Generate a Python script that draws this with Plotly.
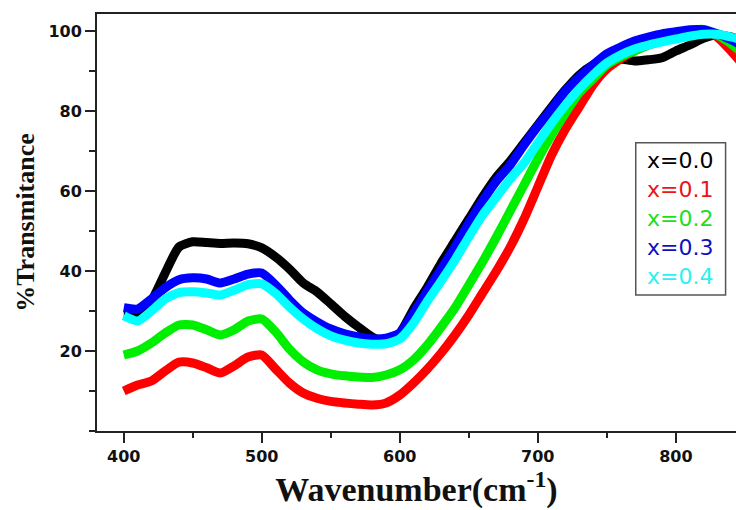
import plotly.graph_objects as go

wavenumber = list(range(400, 851, 10))

t_x00 = [28.8, 29.0, 32.5, 39.5, 46.0, 47.3, 47.1, 46.9, 47.0, 46.8,
         45.8, 43.5, 40.5, 37.0, 34.8, 31.8, 28.7, 26.0, 23.5, 22.3,
         24.5, 30.5, 36.0, 42.0, 47.5, 53.0, 58.5, 63.5, 67.5, 72.0,
         76.5, 81.0, 85.3, 89.0, 91.5, 93.0, 93.0, 92.5, 92.8, 93.3,
         95.0, 96.5, 98.2, 99.0, 98.5, 97.5]
t_x01 = [10.0, 11.5, 12.5, 15.0, 17.2, 17.0, 15.8, 14.5, 16.3, 18.5,
         19.0, 15.5, 12.0, 9.5, 8.2, 7.4, 7.0, 6.7, 6.5, 7.0,
         9.0, 12.0, 15.5, 19.5, 24.0, 29.0, 34.5, 40.0, 46.0, 53.0,
         61.0, 69.0, 75.5, 81.0, 86.5, 90.5, 93.0, 95.0, 96.5, 97.5,
         98.5, 99.8, 100.2, 98.5, 95.0, 91.0]
t_x02 = [19.0, 20.0, 22.0, 24.5, 26.5, 26.5, 25.3, 24.0, 25.3, 27.5,
         28.0, 24.8, 20.5, 17.3, 15.3, 14.3, 13.8, 13.5, 13.4, 14.0,
         15.3, 17.8, 21.5, 26.0, 30.8, 36.5, 42.3, 48.5, 55.0, 61.5,
         68.0, 74.0, 79.5, 84.5, 88.0, 91.5, 93.5, 95.0, 96.5, 97.5,
         98.7, 100.0, 100.4, 99.0, 96.8, 94.0]
t_x03 = [30.8, 30.5, 33.0, 35.8, 37.8, 38.3, 38.0, 37.0, 38.0, 39.2,
         39.5, 36.5, 32.8, 29.5, 27.3, 25.5, 24.3, 23.5, 23.0, 23.2,
         24.5, 29.5, 35.0, 40.5, 46.0, 52.0, 57.5, 62.5, 66.5, 71.5,
         76.2, 80.5, 85.0, 88.5, 91.5, 94.3, 96.0, 97.5, 98.5, 99.3,
         99.8, 100.3, 100.3, 99.3, 97.8, 96.0]
t_x04 = [28.8, 27.5, 30.0, 33.0, 34.6, 34.8, 34.5, 34.0, 35.2, 36.6,
         36.8, 34.4, 31.0, 28.0, 25.6, 23.8, 22.7, 22.0, 21.7, 21.8,
         23.0, 27.0, 32.5, 37.5, 42.8, 48.5, 54.0, 58.5, 63.0, 67.0,
         72.0, 77.0, 81.5, 85.5, 89.0, 92.0, 94.0, 95.5, 96.5, 97.3,
         98.0, 98.7, 99.2, 99.2, 98.5, 97.5]

series_names = ["x=0.0", "x=0.1", "x=0.2", "x=0.3", "x=0.4"]
series_values = [t_x00, t_x01, t_x02, t_x03, t_x04]
series_colors = ["#000000", "#ff0000", "#00ee00", "#0000ff", "#00ffff"]
legend_text_colors = ["#000000", "#e8151b", "#22dd22", "#1010c0", "#2ff0f0"]

x_ticks = [400, 500, 600, 700, 800]
y_ticks = [20, 40, 60, 80, 100]

fig = go.Figure()
for name, vals, col in zip(series_names, series_values, series_colors):
    fig.add_trace(go.Scatter(
        x=wavenumber, y=vals, name=name, mode="lines",
        line=dict(color=col, width=9, shape="spline", smoothing=0.6),
        showlegend=False,
    ))

# Legend box drawn as bordered text entries
legend_top = 0.6475
legend_step = 0.0695
for i, (name, col) in enumerate(zip(series_names, legend_text_colors)):
    fig.add_annotation(
        x=0.8576, y=legend_top - i * legend_step, xref="paper", yref="paper",
        text=name, showarrow=False, xanchor="left", yanchor="middle",
        font=dict(family="DejaVu Sans", size=22, color=col),
    )
fig.add_shape(type="rect", xref="paper", yref="paper",
              x0=0.8431, x1=0.9837, y0=0.326, y1=0.6914,
              line=dict(color="#555555", width=1.5), fillcolor="rgba(0,0,0,0)")

fig.update_layout(
    width=736, height=510,
    margin=dict(l=97, r=0, t=14, b=79),
    paper_bgcolor="white", plot_bgcolor="white",
    xaxis=dict(
        range=[380.6, 843.6], tickvals=x_ticks, ticktext=[str(v) for v in x_ticks],
        showgrid=False, zeroline=False,
        showline=True, linecolor="#222222", linewidth=2, mirror=True,
        ticks="outside", ticklen=10, tickwidth=2, tickcolor="#222222",
        minor=dict(dtick=50, tick0=0, ticks="outside", ticklen=5, tickwidth=1.5, tickcolor="#222222"),
        tickfont=dict(family="DejaVu Sans", size=16, weight="bold", color="#111111"),
        title=dict(text="Wavenumber(cm<sup>-1</sup>)", standoff=8,
                   font=dict(family="Liberation Serif", size=34, weight="bold", color="#111111")),
        automargin=False,
    ),
    yaxis=dict(
        range=[0, 104.25], tickvals=y_ticks, ticktext=[str(v) for v in y_ticks],
        showgrid=False, zeroline=False,
        showline=True, linecolor="#222222", linewidth=2, mirror=False,
        ticks="outside", ticklen=10, tickwidth=2, tickcolor="#222222",
        minor=dict(dtick=10, tick0=0, ticks="outside", ticklen=6, tickwidth=1.5, tickcolor="#222222"),
        tickfont=dict(family="DejaVu Sans", size=16, weight="bold", color="#111111"),
        title=dict(text="%Transmitance", standoff=6,
                   font=dict(family="Liberation Serif", size=26, weight="bold", color="#111111")),
        automargin=False,
    ),
)

fig.write_html("out.html", config={"displayModeBar": False},
               post_script="document.body.style.margin='0';document.body.style.overflow='hidden';")
